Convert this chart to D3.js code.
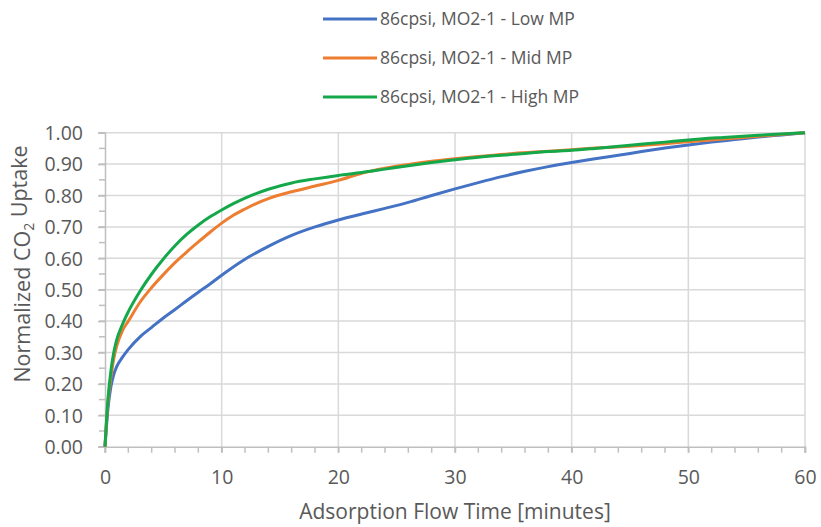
<!DOCTYPE html>
<html>
<head>
<meta charset="utf-8">
<script src="https://cdn.jsdelivr.net/npm/d3@7"></script>
<style>
  html, body { margin: 0; padding: 0; background: #fff; }
  svg text { font-family: "Open Sans", "Liberation Sans", sans-serif; fill: #595959; }
</style>
</head>
<body>
<svg id="chart" width="821" height="527"></svg>
<script>
// Adsorption flow time (minutes) and normalized CO2 uptake for each sample
const timeLow  = [0, 0.25, 0.5, 0.75, 1, 1.5, 2, 3, 4, 5, 6, 7, 8, 9, 10, 12, 14, 16, 18, 20, 22, 24, 26, 28, 30, 32, 34, 36, 38, 40, 42, 44, 46, 48, 50, 52, 54, 56, 58, 60];
const uptakeLow = [0, 0.12, 0.19, 0.23, 0.255, 0.285, 0.31, 0.35, 0.38, 0.41, 0.437, 0.465, 0.492, 0.518, 0.546, 0.597, 0.638, 0.673, 0.70, 0.722, 0.741, 0.759, 0.778, 0.800, 0.821, 0.841, 0.86, 0.877, 0.892, 0.905, 0.917, 0.928, 0.94, 0.951, 0.961, 0.97, 0.978, 0.986, 0.993, 1.0];

const timeMid  = [0, 0.25, 0.5, 0.75, 1, 1.5, 2, 3, 4, 5, 6, 7, 8, 9, 10, 11, 12, 13, 14, 16, 18, 20, 22, 24, 26, 28, 30, 32, 35, 38, 40, 42, 45, 48, 50, 53, 56, 60];
const uptakeMid = [0, 0.14, 0.22, 0.28, 0.32, 0.37, 0.40, 0.46, 0.507, 0.548, 0.586, 0.62, 0.652, 0.683, 0.712, 0.737, 0.757, 0.775, 0.79, 0.812, 0.83, 0.848, 0.871, 0.887, 0.899, 0.909, 0.917, 0.924, 0.934, 0.941, 0.946, 0.951, 0.957, 0.965, 0.971, 0.98, 0.989, 1.0];

const timeHigh = [0, 0.25, 0.5, 0.75, 1, 1.5, 2, 3, 4, 5, 6, 7, 8, 9, 10, 11, 12, 13, 14, 16, 18, 20, 22, 24, 26, 28, 30, 32, 35, 38, 40, 42, 45, 48, 50, 53, 56, 60];
const uptakeHigh = [0, 0.15, 0.24, 0.30, 0.34, 0.39, 0.43, 0.495, 0.55, 0.598, 0.64, 0.676, 0.706, 0.732, 0.754, 0.774, 0.792, 0.807, 0.82, 0.84, 0.853, 0.864, 0.873, 0.884, 0.895, 0.905, 0.914, 0.922, 0.931, 0.94, 0.944, 0.95, 0.96, 0.97, 0.977, 0.985, 0.992, 1.0];

const seriesNames = ["86cpsi, MO2-1 - Low MP", "86cpsi, MO2-1 - Mid MP", "86cpsi, MO2-1 - High MP"];
const seriesColors = ["#4472C4", "#ED7D31", "#14A84A"];

const xTicks = [0, 10, 20, 30, 40, 50, 60];
const yTicks = [0, 0.1, 0.2, 0.3, 0.4, 0.5, 0.6, 0.7, 0.8, 0.9, 1.0];

const series = [
  { name: seriesNames[0], color: seriesColors[0], pts: d3.zip(timeLow, uptakeLow) },
  { name: seriesNames[1], color: seriesColors[1], pts: d3.zip(timeMid, uptakeMid) },
  { name: seriesNames[2], color: seriesColors[2], pts: d3.zip(timeHigh, uptakeHigh) }
];

const svg = d3.select("#chart");
const plot = { left: 105, right: 805, top: 132.7, bottom: 446.7 };

const x = d3.scaleLinear().domain([0, 60]).range([plot.left, plot.right]);
const y = d3.scaleLinear().domain([0, 1]).range([plot.bottom, plot.top]);

// gridlines
const grid = svg.append("g");
grid.selectAll("line.h").data(yTicks.slice(1)).join("line")
  .attr("x1", plot.left).attr("x2", plot.right)
  .attr("y1", d => y(d)).attr("y2", d => y(d))
  .attr("stroke", "#d9d9d9").attr("stroke-width", 1.5);
grid.selectAll("line.v").data(xTicks.slice(1)).join("line")
  .attr("y1", plot.top).attr("y2", plot.bottom)
  .attr("x1", d => x(d)).attr("x2", d => x(d))
  .attr("stroke", "#d9d9d9").attr("stroke-width", 1.5);

// minor ticks
const minorX = d3.range(0, 61, 2);
const minorY = d3.range(0, 1.0001, 0.05);
svg.append("g").selectAll("line").data(minorX).join("line")
  .attr("x1", d => x(d)).attr("x2", d => x(d))
  .attr("y1", plot.bottom).attr("y2", plot.bottom + 6)
  .attr("stroke", "#bfbfbf").attr("stroke-width", 1.5);
svg.append("g").selectAll("line").data(minorY).join("line")
  .attr("y1", d => y(d)).attr("y2", d => y(d))
  .attr("x1", plot.left - 6).attr("x2", plot.left)
  .attr("stroke", "#bfbfbf").attr("stroke-width", 1.5);

// axes
const xAxis = svg.append("g").attr("transform", `translate(0,${plot.bottom})`)
  .call(d3.axisBottom(x).tickValues(xTicks).tickFormat(d3.format("d")).tickSize(6).tickPadding(17));
const yAxis = svg.append("g").attr("transform", `translate(${plot.left},0)`)
  .call(d3.axisLeft(y).tickValues(yTicks).tickFormat(d3.format(".2f")).tickSize(7).tickPadding(15));
[xAxis, yAxis].forEach(a => {
  a.select(".domain").attr("stroke", "#bfbfbf").attr("stroke-width", 1.5);
  a.selectAll(".tick line").attr("stroke", "#bfbfbf").attr("stroke-width", 1.5);
  a.selectAll(".tick text").attr("fill", "#595959").style("font-size", "19.5px")
    .style("font-family", "'Open Sans', 'Liberation Sans', sans-serif");
});
yAxis.selectAll(".tick text").attr("dy", "0.35em");

// series lines
const line = d3.line().x(d => x(d[0])).y(d => y(d[1])).curve(d3.curveMonotoneX);
svg.append("g").selectAll("path").data(series).join("path")
  .attr("d", d => line(d.pts))
  .attr("fill", "none")
  .attr("stroke", d => d.color)
  .attr("stroke-width", 3)
  .attr("stroke-linejoin", "round");

// legend
const legend = svg.append("g");
const rows = [19, 58, 97];
series.forEach((s, i) => {
  const g = legend.append("g").attr("transform", `translate(323,${rows[i]})`);
  g.append("line").attr("x1", 0).attr("x2", 54).attr("y1", 0).attr("y2", 0)
    .attr("stroke", s.color).attr("stroke-width", 3);
  g.append("text").attr("x", 57).attr("y", 0).attr("dy", "0.35em")
    .style("font-size", "17.5px").text(s.name);
});

// axis titles
svg.append("text").attr("x", (plot.left + plot.right) / 2).attr("y", 512)
  .attr("text-anchor", "middle").attr("dy", "0.35em")
  .style("font-size", "21px").text("Adsorption Flow Time [minutes]");

const yTitle = svg.append("text")
  .attr("transform", `translate(22,264) rotate(-90)`)
  .attr("text-anchor", "middle").attr("dy", "0.35em")
  .style("font-size", "21.5px");
yTitle.append("tspan").text("Normalized CO");
yTitle.append("tspan").attr("dy", "0.3em").style("font-size", "14px").text("2");
yTitle.append("tspan").attr("dy", "-0.3em").text(" Uptake");
</script>
</body>
</html>
